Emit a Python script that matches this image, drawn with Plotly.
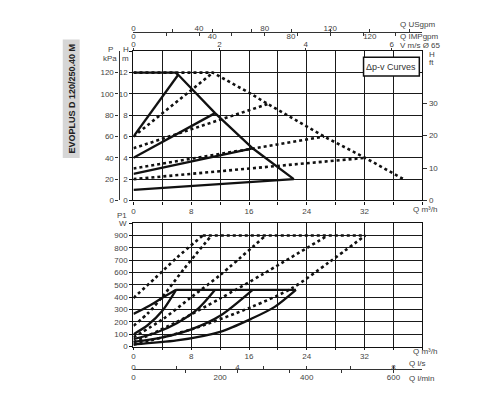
import plotly.graph_objects as go

W_PX, H_PX = 500, 400
def px(x): return x / W_PX
def py(y): return 1 - y / H_PX

# ---------------- data: top chart (H [m] vs Q [m3/h]) ----------------
top_solid_max_q = [0, 5.8, 6.2, 11.3, 16.5, 22.2]
top_solid_max_h = [12, 12, 11.8, 8.2, 4.9, 2.0]
top_solid_dpv_q = [[0, 6.2], [0, 11.3], [0, 16.5], [0, 22.2]]
top_solid_dpv_h = [[6, 11.8], [4, 8.2], [2.5, 4.9], [1, 2.0]]
top_dot_max_q = [0, 11.0, 16.3, 18.6, 26.4, 32.1, 37.4]
top_dot_max_h = [12, 12, 10.0, 9.05, 6.0, 4.0, 2.0]
top_dot_dpv_q = [[0, 11.0], [0, 18.6], [0, 26.4], [0, 32.1]]
top_dot_dpv_h = [[6, 12], [4.9, 9.05], [3, 6.0], [2, 4.0]]

# ---------------- data: bottom chart (P1 [W] vs Q [m3/h]) ----------------
bot_solid_flat_q = [5.9, 22.5]
bot_solid_flat_w = [460, 460]
bot_solid_q = [[0, 2, 4, 5.9],
               [0, 2, 4, 5.9],
               [0, 3, 6, 9, 11.3],
               [0, 4, 8, 12, 16.5],
               [0, 6, 12, 16.3, 19.5, 22.5]]
bot_solid_w = [[265, 325, 395, 460],
               [100, 175, 290, 460],
               [60, 110, 190, 310, 460],
               [38, 75, 140, 250, 460],
               [18, 50, 120, 225, 320, 460]]
bot_dot_flat_q = [9.6, 32.1]
bot_dot_flat_w = [900, 900]
bot_dot_q = [[0, 3, 6, 9.6],
             [0, 2, 4.1, 7, 10.8],
             [0, 4, 8, 12, 18.3],
             [0, 6, 12, 18, 26.9],
             [0, 8, 16.3, 22, 27, 32.1]]
bot_dot_w = [[394, 555, 720, 900],
             [168, 270, 410, 630, 900],
             [75, 220, 400, 580, 900],
             [35, 200, 390, 590, 900],
             [15, 140, 320, 475, 680, 900]]

# tick labels
q_ticks = list(range(0, 41, 4))
q_text = ['0', '', '8', '', '16', '', '24', '', '32', '', '']
h_ticks = list(range(0, 15, 2))
h_text = ['0', '2', '4', '6', '8', '10', '12', '']
p_ticks = [0, 20, 40, 60, 80, 100, 120]
hft_ticks = [0, 10, 20, 30]
us_ticks = list(range(0, 161, 20))
us_text = ['0', '', '40', '', '80', '', '120', '', '']
imp_ticks = list(range(0, 141, 20))
imp_text = ['0', '', '40', '', '80', '', '120', '']
v_ticks = [0, 2, 4, 6]
w_ticks = list(range(0, 1001, 100))
w_text = [str(v) for v in range(0, 901, 100)] + ['']
ls_ticks = [0, 2, 4, 6, 8, 10]
ls_text = ['0', '', '4', '', '', '8']
lmin_ticks = list(range(0, 601, 100))
lmin_text = ['0', '', '200', '', '400', '', '600']

BLACK = '#111111'
GRID = '#1a1a1a'
TICKF = dict(family='Liberation Sans, Arial', size=8, color='#444444')
SOLID = dict(color=BLACK, width=2.3)
DOT = dict(color=BLACK, width=2.6, dash='dot')
SOLID_S = dict(SOLID, shape='spline', smoothing=0.8)
DOT_S = dict(DOT, shape='spline', smoothing=0.8)

fig = go.Figure()

def line(x, y, style, xa='x', ya='y'):
    fig.add_trace(go.Scatter(x=x, y=y, mode='lines', line=style, xaxis=xa, yaxis=ya,
                             hoverinfo='skip'))

# top chart
line(top_dot_max_q, top_dot_max_h, DOT)
for q, h in zip(top_dot_dpv_q, top_dot_dpv_h):
    line(q, h, DOT)
line(top_solid_max_q, top_solid_max_h, SOLID)
for q, h in zip(top_solid_dpv_q, top_solid_dpv_h):
    line(q, h, SOLID)

# bottom chart
line(bot_dot_flat_q, bot_dot_flat_w, DOT, 'x2', 'y2')
for q, w in zip(bot_dot_q, bot_dot_w):
    line(q, w, DOT_S, 'x2', 'y2')
line(bot_solid_flat_q, bot_solid_flat_w, SOLID, 'x2', 'y2')
for q, w in zip(bot_solid_q, bot_solid_w):
    line(q, w, SOLID_S, 'x2', 'y2')

# dummy traces so auxiliary axes get drawn
for xa, ya in [('x', 'y3'), ('x', 'y4'), ('x3', 'y'), ('x4', 'y'), ('x5', 'y'),
               ('x6', 'y2'), ('x7', 'y2')]:
    fig.add_trace(go.Scatter(x=[None], y=[None], mode='markers', xaxis=xa, yaxis=ya,
                             hoverinfo='skip', showlegend=False))

TOP_DOM = [py(203), py(52)]
BOT_DOM = [py(351), py(226)]
X_DOM = [px(132), px(422)]

common_grid = dict(showgrid=True, gridcolor=GRID, gridwidth=1, zeroline=False,
                   showline=True, linecolor=BLACK, linewidth=1.4, mirror=True,
                   tickfont=TICKF, fixedrange=True)
aux = dict(tickcolor='#333', showgrid=False, zeroline=False, tickfont=TICKF,
           fixedrange=True, tickmode='array')

fig.update_layout(
    width=W_PX, height=H_PX, margin=dict(l=0, r=0, t=0, b=0),
    paper_bgcolor='white', plot_bgcolor='white', showlegend=False,
    font=dict(family='Liberation Sans, Arial', color='#333333'),
    xaxis=dict(domain=X_DOM, anchor='y', range=[0, 40], tickmode='array',
               tickvals=q_ticks, ticktext=q_text, ticks='outside', ticklen=3,
               tickcolor=BLACK, **common_grid),
    yaxis=dict(domain=TOP_DOM, anchor='x', range=[0, 14], tickmode='array',
               tickvals=h_ticks, ticktext=h_text, ticks='outside', ticklen=3,
               tickcolor=BLACK, **common_grid),
    xaxis2=dict(domain=X_DOM, anchor='y2', range=[0, 40], tickmode='array',
                tickvals=q_ticks, ticktext=q_text, ticks='outside', ticklen=2,
                tickcolor=BLACK, **common_grid),
    yaxis2=dict(domain=BOT_DOM, anchor='x2', range=[0, 1000], tickmode='array',
                tickvals=w_ticks, ticktext=w_text, ticks='outside', ticklen=3,
                tickcolor=BLACK, **common_grid),
    yaxis3=dict(overlaying='y', anchor='free', position=px(117), side='left',
                range=[0, 140], tickvals=p_ticks, ticks='outside', ticklen=3,
                showline=True, linecolor='#333', linewidth=1.2, **aux),
    yaxis4=dict(overlaying='y', anchor='x', side='right', range=[0, 14 / 0.3048],
                tickvals=hft_ticks, ticks='outside', ticklen=4, showline=False, **aux),
    xaxis3=dict(overlaying='x', anchor='free', position=py(32), side='top',
                range=[0, 40 / 0.22712], tickvals=us_ticks, ticktext=us_text,
                ticks='inside', ticklen=3, showline=True, linecolor='#333',
                linewidth=1.2, ticklabelstandoff=-3, **aux),
    xaxis4=dict(overlaying='x', anchor='free', position=py(32), side='bottom',
                range=[0, 40 / 0.27277], tickvals=imp_ticks, ticktext=imp_text,
                ticks='inside', ticklen=3, showline=True, linecolor='#333',
                linewidth=1.2, ticklabelstandoff=-3, **aux),
    xaxis5=dict(overlaying='x', anchor='y', side='top', range=[0, 40 / 5.96],
                tickvals=v_ticks, ticks='outside', ticklen=2, showline=False,
                ticklabelstandoff=-2, **aux),
    xaxis6=dict(overlaying='x2', anchor='free', position=py(374), side='top',
                range=[0, 40 / 3.6], tickvals=ls_ticks, ticktext=ls_text,
                ticks='inside', ticklen=3, showline=True, linecolor='#333',
                linewidth=1.2, ticklabelstandoff=-4, **aux),
    xaxis7=dict(overlaying='x2', anchor='free', position=py(374), side='bottom',
                range=[0, 40 / 0.06], tickvals=lmin_ticks, ticktext=lmin_text,
                ticks='inside', ticklen=3, showline=True, linecolor='#333',
                linewidth=1.2, **aux),
)

ann_font = dict(family='Liberation Sans, Arial', size=8, color='#444444')
def label(text, x, y, xanchor='left', size=8):
    f = dict(ann_font); f['size'] = size
    fig.add_annotation(text=text, x=px(x), y=py(y), xref='paper', yref='paper',
                       xanchor=xanchor, yanchor='middle', showarrow=False, font=f)

label('Q USgpm', 398, 25)
label('Q IMPgpm', 398, 37)
label('V m/s Ø 65', 398, 46)
label('P', 109, 50, 'center')
label('kPa', 108, 59, 'center')
label('H', 124, 50, 'center')
label('m', 124, 59, 'center')
label('H', 427, 55, 'left')
label('ft', 427, 63, 'left')
label('Q m³/h', 411, 212)
label('Q m³/h', 411, 356)
label('P1', 120, 218, 'center')
label('W', 121, 226, 'center')
label('Q l/s', 407, 368)
label('Q l/min', 407, 383)

# vertical model title
fig.add_shape(type='rect', xref='paper', yref='paper', x0=px(61), x1=px(78),
              y0=py(160), y1=py(40), fillcolor='#d6d6d6', line=dict(width=0),
              layer='below')
fig.add_annotation(text='<b>EVOPLUS D 120/250.40 M</b>', x=px(70), y=py(100),
                   xref='paper', yref='paper', textangle=-90, showarrow=False,
                   xanchor='center', yanchor='middle',
                   font=dict(family='Liberation Sans, Arial', size=9, color='#222'))

# curve-type box
fig.add_shape(type='rect', xref='paper', yref='paper', x0=px(363), x1=px(419),
              y0=py(77), y1=py(58), fillcolor='white',
              line=dict(color=BLACK, width=1.5), layer='above')
fig.add_annotation(text='Δp-v Curves', x=px(391), y=py(67.5), xref='paper',
                   yref='paper', showarrow=False, xanchor='center', yanchor='middle',
                   font=dict(family='Liberation Sans, Arial', size=9, color='#333'))

fig.write_html('out.html')
